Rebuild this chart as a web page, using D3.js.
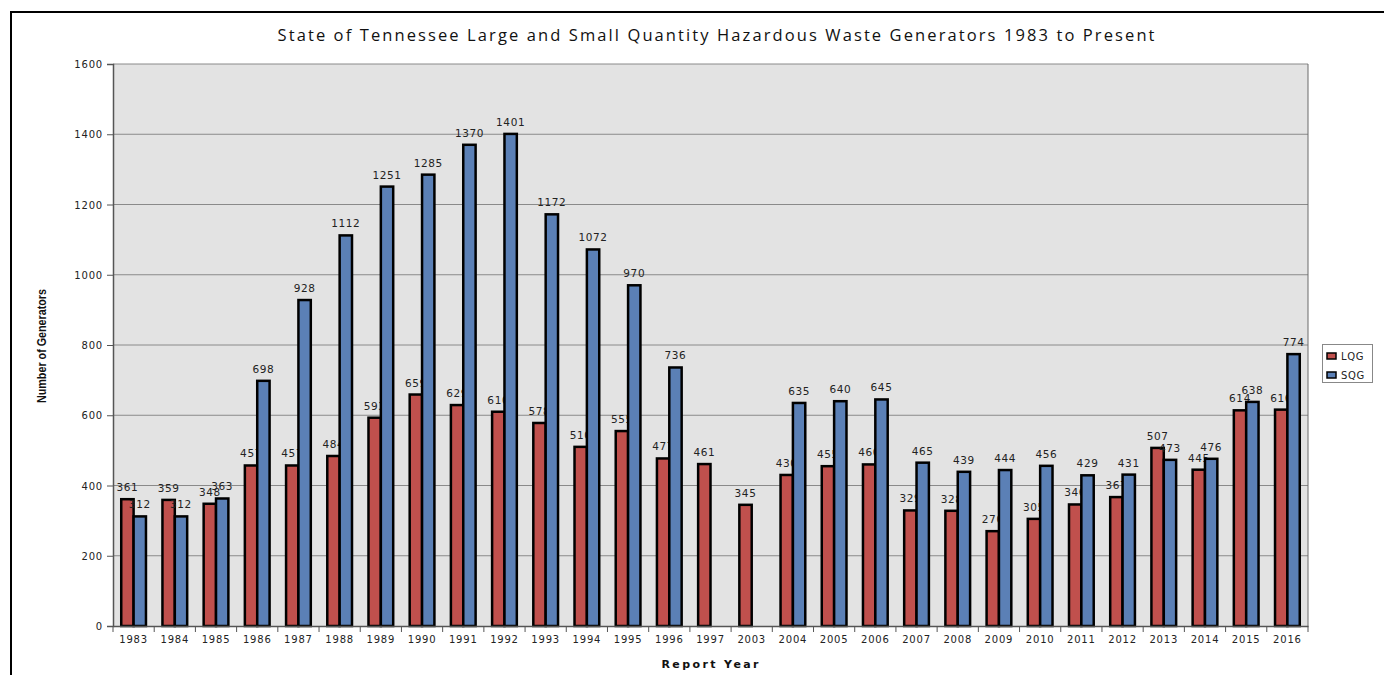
<!DOCTYPE html>
<html><head><meta charset="utf-8">
<script src="https://cdn.jsdelivr.net/npm/d3@7/dist/d3.min.js"></script>
<style>body{margin:0;background:#fff}svg{display:block}</style>
</head><body>
<script>
const years = ["1983","1984","1985","1986","1987","1988","1989","1990","1991","1992","1993","1994","1995","1996","1997","2003","2004","2005","2006","2007","2008","2009","2010","2011","2012","2013","2014","2015","2016"];
const lqg = [361,359,348,457,457,484,593,659,629,610,578,510,555,477,461,345,430,455,460,329,328,270,305,346,367,507,445,614,616];
const sqg = [312,312,363,698,928,1112,1251,1285,1370,1401,1172,1072,970,736,null,null,635,640,645,465,439,444,456,429,431,473,476,638,774];
const yTicks = [0,200,400,600,800,1000,1200,1400,1600];
const seriesNames = ["LQG","SQG"];
const colors = ["#c0504d","#5b80b6"];

const W=1384,H=675;
const svg=d3.select("body").append("svg").attr("width",W).attr("height",H);
svg.append("path").attr("d","M11,675 L11,12 L1384,12").attr("fill","none").attr("stroke","#000").attr("stroke-width",2);

const L=113,R=1308,T=64,B=626;
const x=d3.scaleBand().domain(years).range([L,R]).padding(0);
const y=d3.scaleLinear().domain([0,1600]).range([B,T]);
const bw=x.bandwidth();
const barW=bw*0.3;
const off=[bw/2-barW, bw/2];

svg.append("rect").attr("x",L).attr("y",T).attr("width",R-L).attr("height",B-T).attr("fill","#e3e3e3");
svg.append("g").selectAll("line").data(yTicks.filter(d=>d>0)).join("line")
  .attr("x1",L).attr("x2",R).attr("y1",d=>y(d)).attr("y2",d=>y(d)).attr("stroke","#8a8a8a").attr("stroke-width",1);
svg.append("line").attr("x1",R).attr("x2",R).attr("y1",T).attr("y2",B).attr("stroke","#6a6a6a");

const series=[lqg,sqg];
const fmt = "DejaVu Sans";
series.forEach((vals,si)=>{
  const g=svg.append("g");
  const data=years.map((yr,i)=>({yr,v:vals[i]})).filter(d=>d.v!=null);
  g.selectAll("rect").data(data).join("rect")
    .attr("x",d=>x(d.yr)+off[si]).attr("width",barW)
    .attr("y",d=>y(d.v)).attr("height",d=>B-y(d.v))
    .attr("fill",colors[si]).attr("stroke","#000").attr("stroke-width",2.5);
  g.selectAll("text").data(data).join("text")
    .attr("x",d=>x(d.yr)+off[si]+barW/2).attr("y",d=>y(d.v)-8)
    .attr("text-anchor","middle").attr("font-family",fmt).attr("font-size",10.5).attr("letter-spacing",0.6)
    .attr("fill","#222").text(d=>d.v);
});

const ya=svg.append("g").attr("transform",`translate(${L},0)`).call(d3.axisLeft(y).tickValues(yTicks).tickSize(6).tickPadding(4).tickFormat(d3.format("d")));
ya.select(".domain").attr("stroke","#555").attr("stroke-width",1.5);
ya.selectAll("line").attr("stroke","#555");
ya.selectAll("text").attr("font-family",fmt).attr("font-size",10).attr("letter-spacing",0.8).attr("fill","#222").attr("dy","0.35em");

const xa=svg.append("g").attr("transform",`translate(0,${B})`).call(d3.axisBottom(x).tickSize(0).tickPadding(10));
xa.select(".domain").attr("stroke","#555").attr("stroke-width",1.5);
xa.selectAll("text").attr("font-family",fmt).attr("font-size",10).attr("letter-spacing",0.8).attr("fill","#222");
svg.append("g").selectAll("line").data(d3.range(years.length+1)).join("line")
  .attr("x1",i=>L+i*bw).attr("x2",i=>L+i*bw).attr("y1",B).attr("y2",B+6).attr("stroke","#555");

svg.append("text").attr("x",716).attr("y",41).attr("text-anchor","middle")
  .attr("font-family","Open Sans").attr("font-size",16.5).attr("fill","#111")
  .attr("textLength",877).attr("lengthAdjust","spacing")
  .text("State of Tennessee Large and Small Quantity Hazardous Waste Generators 1983 to Present");
svg.append("text").attr("transform","translate(46,346) rotate(-90)").attr("text-anchor","middle")
  .attr("font-family","Liberation Sans").attr("font-weight","bold").attr("font-size",12).attr("fill","#111")
  .attr("textLength",114).attr("lengthAdjust","spacingAndGlyphs").text("Number of Generators");
svg.append("text").attr("x",710).attr("y",668).attr("text-anchor","middle")
  .attr("font-family","DejaVu Sans").attr("font-weight","bold").attr("font-size",11).attr("fill","#111")
  .attr("textLength",97).attr("lengthAdjust","spacing").text("Report Year");

const lg=svg.append("g");
lg.append("rect").attr("x",1322.5).attr("y",344.5).attr("width",50).attr("height",38).attr("fill","#fff").attr("stroke","#888");
seriesNames.forEach((n,i)=>{
  const yy=356+i*19;
  lg.append("rect").attr("x",1327).attr("y",yy-3).attr("width",9).attr("height",6).attr("fill",colors[i]).attr("stroke","#000").attr("stroke-width",1.5);
  lg.append("text").attr("x",1341).attr("y",yy).attr("dy","0.35em").attr("font-family",fmt).attr("font-size",10).attr("letter-spacing",0.6).attr("fill","#222").text(n);
});
</script>
</body></html>
